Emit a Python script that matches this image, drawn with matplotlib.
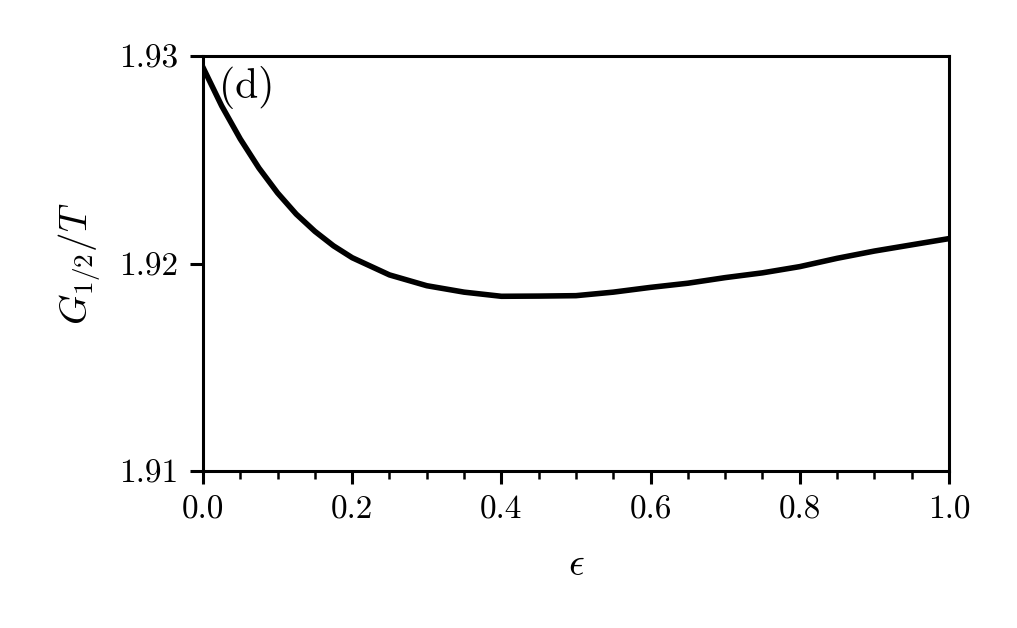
import matplotlib
matplotlib.use("Agg")
import matplotlib.pyplot as plt
from matplotlib.ticker import MultipleLocator

# values
eps = [0.0, 0.025, 0.05, 0.075, 0.1, 0.125, 0.15, 0.175, 0.2, 0.25, 0.3, 0.35,
       0.4, 0.45, 0.5, 0.55, 0.6, 0.65, 0.7, 0.75, 0.8, 0.85, 0.9, 0.95, 1.0]
g_half = [1.92945, 1.92760, 1.92600, 1.92460, 1.92340, 1.92238, 1.92155,
          1.92085, 1.92028, 1.91945, 1.91893, 1.91862, 1.91842, 1.91843,
          1.91845, 1.91862, 1.91885, 1.91905, 1.91932, 1.91955, 1.91985,
          1.92025, 1.92060, 1.92090, 1.92120]

x_ticks = [0.0, 0.2, 0.4, 0.6, 0.8, 1.0]
y_ticks = [1.91, 1.92, 1.93]

plt.rcParams["font.family"] = "serif"
plt.rcParams["font.serif"] = ["cmr10"]
plt.rcParams["mathtext.fontset"] = "cm"
plt.rcParams["axes.formatter.use_mathtext"] = True
plt.rcParams["font.size"] = 12

fig = plt.figure(figsize=(1017 / 200, 628 / 200), dpi=200)
ax = fig.add_axes([0.1996, 0.25, 0.7335, 0.6608])

ax.plot(eps, g_half, color="black", linewidth=2.0)

ax.set_xlim(0, 1)
ax.set_ylim(1.91, 1.93)
ax.set_xticks(x_ticks)
ax.set_xticklabels([f"{t:.1f}" for t in x_ticks])
ax.set_yticks(y_ticks)
ax.set_yticklabels([f"{t:.2f}" for t in y_ticks])
ax.xaxis.set_minor_locator(MultipleLocator(0.05))

for s in ax.spines.values():
    s.set_linewidth(1.1)
ax.tick_params(which="major", length=4.8, width=1.1, direction="out", pad=4)
ax.tick_params(which="minor", length=2.8, width=0.9, direction="out")

ax.set_xlabel(r"$\epsilon$", labelpad=8, fontsize=14)
ax.set_ylabel(r"$G_{1/2}/T$", labelpad=6, fontsize=14)
ax.text(0.022, 0.975, "(d)", transform=ax.transAxes, va="top", ha="left",
        fontsize=15)

fig.savefig("out.png", dpi=200)
